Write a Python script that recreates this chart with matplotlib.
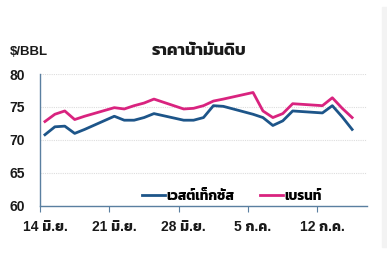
import matplotlib
matplotlib.use("Agg")
import matplotlib.pyplot as plt
from matplotlib.transforms import ScaledTranslation

plt.rcParams['font.family'] = ['Liberation Sans', 'Kanit', 'DejaVu Sans']
plt.rcParams['font.weight'] = 'bold'

# trading days as day offsets from 14 Jun
days = [0, 1, 2, 3, 4, 7, 8, 9, 10, 11, 14, 15, 16, 17, 18, 21, 22, 23, 24, 25, 28, 29, 30, 31]
wti = [70.8, 72.0, 72.1, 71.0, 71.6, 73.6, 73.0, 73.0, 73.4, 74.0, 73.0, 73.0, 73.4, 75.2, 75.1,
       73.9, 73.4, 72.2, 72.9, 74.4, 74.1, 75.2, 73.5, 71.6]
brent = [72.8, 73.9, 74.4, 73.1, 73.6, 74.9, 74.7, 75.2, 75.6, 76.2, 74.7, 74.8, 75.2, 75.9, 76.2,
         77.2, 74.4, 73.4, 74.0, 75.5, 75.2, 76.4, 74.8, 73.4]
tick_days = [0, 7, 14, 21, 28]
tick_labels = ['14 มิ.ย.', '21 มิ.ย.', '28 มิ.ย.', '5 ก.ค.', '12 ก.ค.']

blue = '#1d5589'
pink = '#d9237f'
axis_col = '#5a7fa0'
txt = '#1a1a1a'

fig = plt.figure(figsize=(3.87, 2.54), dpi=100)
fig.patches.append(plt.Rectangle((382 / 387, 7 / 254), 5 / 387, 240 / 254,
                                 transform=fig.transFigure, color='#f3f3f3', zorder=0))
ax = fig.add_axes([40 / 387, 48 / 254, 327 / 387, 132 / 254])

x = [d + 0.5 for d in days]
ax.plot(x, wti, color=blue, lw=2.0, label='เวสต์เท็กซัส')
ax.plot(x, brent, color=pink, lw=2.0, label='เบรนท์')

ax.set_xlim(0, 33)
ax.set_ylim(60, 80)
ax.set_yticks([60, 65, 70, 75, 80])
ax.set_xticks(tick_days)
ax.set_xticklabels(tick_labels)
ax.grid(axis='y', color='#dddddd', lw=0.8, ls=(0, (1, 1)))
ax.set_axisbelow(True)

for s in ['top', 'right']:
    ax.spines[s].set_visible(False)
for s in ['left', 'bottom']:
    ax.spines[s].set_color(axis_col)
    ax.spines[s].set_linewidth(1.0)
ax.tick_params(axis='y', length=0, pad=11, labelsize=10, colors=txt)
ax.tick_params(axis='x', length=4, color=axis_col, pad=6, labelsize=10, colors=txt)
shift = ScaledTranslation(5 / 100, 0, fig.dpi_scale_trans)
for lab in ax.get_xticklabels():
    lab.set_transform(lab.get_transform() + shift)

fig.text(10 / 387, 199 / 254, '$/BBL', fontsize=9.5, color=txt)
fig.text(199 / 387, 199 / 254, 'ราคาน้ำมันดิบ', fontsize=12, color=txt, ha='center')

ax.legend(loc='lower right', bbox_to_anchor=(0.9, -0.07), ncol=2, frameon=False,
          handlelength=1.7, handletextpad=0.1, columnspacing=1.9,
          prop={'weight': 'bold', 'size': 9.8})

fig.savefig('out.png', dpi=100, facecolor='white')
